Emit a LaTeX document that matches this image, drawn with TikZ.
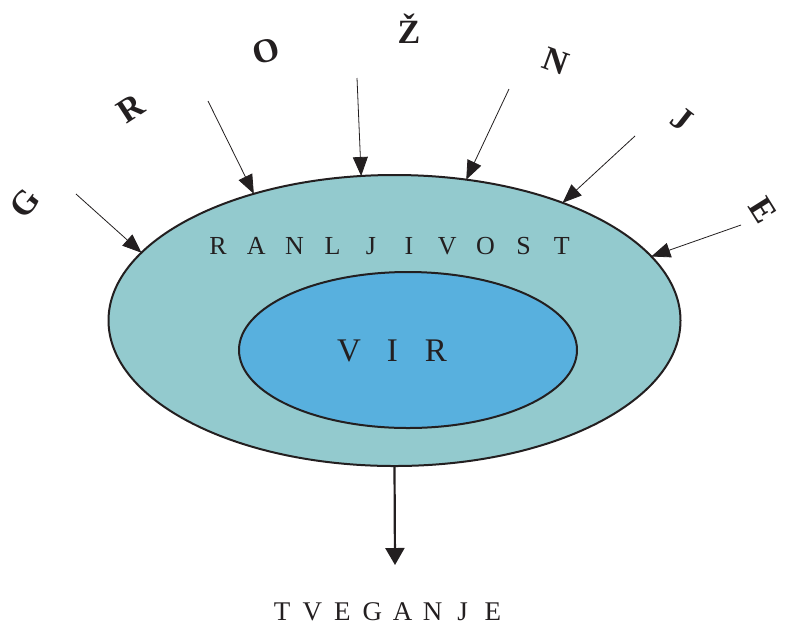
\documentclass[tikz,border=0pt]{standalone}
\usepackage{fontspec}
\setmainfont{Liberation Serif}
\usetikzlibrary{arrows.meta,shapes.geometric}
\definecolor{ringfill}{RGB}{147,202,206}
\definecolor{corefill}{RGB}{88,176,222}
\definecolor{ink}{RGB}{35,31,32}
\newlength\lpitch
\newcommand\lbox[1]{\makebox[\lpitch]{#1}}
\begin{document}
\begin{tikzpicture}[x=1pt,y=-1pt,
  ring/.style={ellipse,draw=ink,line width=2pt,inner sep=0pt,outer sep=0pt},
  word/.style={text=ink,inner sep=0pt,anchor=base},
  arcletter/.style={text=ink,inner sep=0pt,font=\fontsize{34}{38}\selectfont\bfseries},
  threat/.style={draw=ink,line width=0.8pt,-{Triangle[length=19pt,width=15pt]}},
  outcome/.style={draw=ink,line width=2.2pt,-{Triangle[length=17pt,width=19pt]}}]
\useasboundingbox (0,0) rectangle (786,625);
\fill[white] (0,0) rectangle (786,625);
% ellipses
\node[ring,fill=ringfill,minimum width=572pt,minimum height=291pt] (outer) at (394.5,320.5) {};
\node[ring,fill=corefill,minimum width=338pt,minimum height=156pt] (inner) at (408,350) {};
% texts inside
\node[word,font=\fontsize{26}{30}\selectfont] (ranl) at (390,254)
  {\setlength\lpitch{38.2pt}\lbox{R}\lbox{A}\lbox{N}\lbox{L}\lbox{J}\lbox{I}\lbox{V}\lbox{O}\lbox{S}\lbox{T}};
\node[word,font=\fontsize{33}{38}\selectfont] (vir) at (392.5,361)
  {\setlength\lpitch{43.5pt}\lbox{V}\lbox{I}\lbox{R}};
% arc letters
\node[arcletter,rotate=52] (lg) at (25,203) {G};
\node[arcletter,rotate=33] (lr) at (131,108) {R};
\node[arcletter,rotate=16] (lo) at (266,51) {O};
\node[arcletter] (lz) at (409,29) {Ž};
\node[arcletter,rotate=-20] (ln) at (556,61) {N};
\node[arcletter,rotate=-38] (lj) at (682,119) {J};
\node[arcletter,rotate=-58] (le) at (763,210) {E};
% threat arrows
\coordinate (t1) at (76,194);
\coordinate (t2) at (208,101);
\coordinate (t3) at (357,78);
\coordinate (t4) at (509,89);
\coordinate (t5) at (635,136);
\coordinate (t6) at (741,225);
\draw[threat] (t1) -- (outer.165);
\draw[threat] (t2) -- (outer.138);
\draw[threat] (t3) -- (outer.103);
\draw[threat] (t4) -- (outer.63);
\draw[threat] (t5) -- (outer.35);
\draw[threat] (t6) -- (outer.14);
% outcome
\coordinate (riskend) at (395,565);
\draw[outcome] (outer.south) -- (riskend);
\node[word,font=\fontsize{27}{32}\selectfont] (tveg) at (387.5,620)
  {\setlength\lpitch{30.1pt}\lbox{T}\lbox{V}\lbox{E}\lbox{G}\lbox{A}\lbox{N}\lbox{J}\lbox{E}};
\end{tikzpicture}
\end{document}
